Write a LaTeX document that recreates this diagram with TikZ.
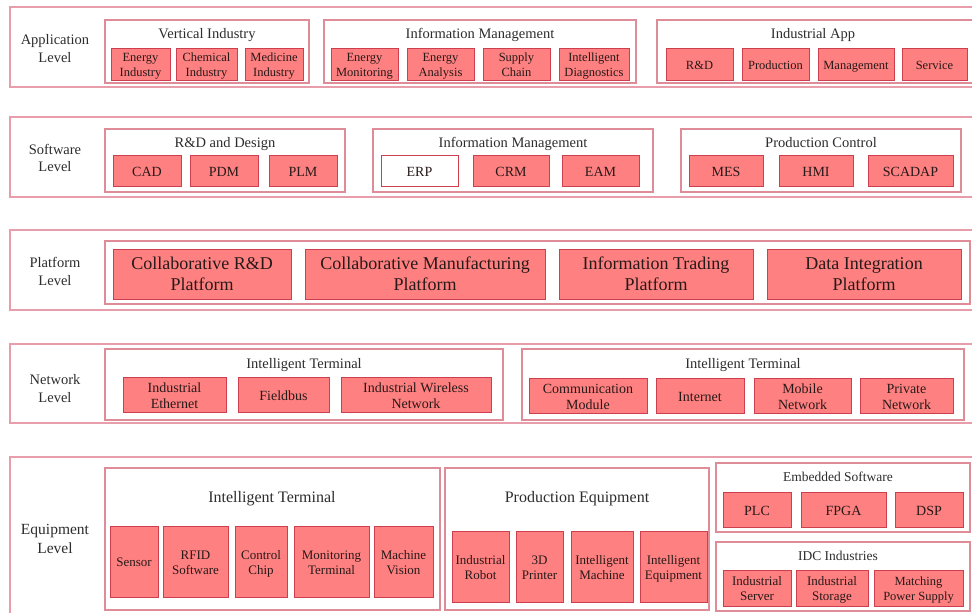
\documentclass[tikz,border=0pt]{standalone}
\usepackage{fontspec}
\setmainfont{Liberation Serif}
\definecolor{cellfill}{RGB}{255,128,128}
\definecolor{celldraw}{RGB}{205,62,78}
\definecolor{grpdraw}{RGB}{222,140,152}
\definecolor{lvldraw}{RGB}{232,158,170}
\definecolor{titletxt}{RGB}{45,45,45}
\definecolor{celltxt}{RGB}{40,25,25}
\tikzset{
  cell/.style={draw=celldraw, fill=cellfill, line width=0.9pt, inner sep=1pt, align=center, text=celltxt},
  wcell/.style={cell, fill=white},
  grp/.style={draw=grpdraw, line width=1.1pt, inner sep=0pt},
  lvl/.style={draw=lvldraw, line width=1.5pt, inner sep=0pt},
  lvltxt/.style={align=center, text=titletxt, inner sep=0pt, font=\fontsize{14.5}{17.5}\selectfont,
    text height=28.6pt, text depth=0pt},
  ttl/.style={text=titletxt, inner sep=0pt, font=\fontsize{14.5}{16}\selectfont,
    execute at begin node=\strut},
  % single-line (1) and two-line (2) cells for each font size
  fa1/.style={font=\fontsize{12.5}{15}\selectfont, text height=10pt, text depth=0pt},
  fa2/.style={font=\fontsize{12.5}{15}\selectfont, text height=25pt, text depth=0pt},
  fb1/.style={font=\fontsize{14}{16}\selectfont, text height=11.2pt, text depth=0pt},
  fb2/.style={font=\fontsize{14}{16}\selectfont, text height=27.2pt, text depth=0pt},
  fc2/.style={font=\fontsize{18}{21}\selectfont, text height=33.6pt, text depth=0pt},
  fd1/.style={font=\fontsize{13}{15}\selectfont, text height=10.4pt, text depth=0pt},
  fd2/.style={font=\fontsize{13}{15}\selectfont, text height=25.4pt, text depth=0pt},
}
% #1 style, #2 name, #3 x1, #4 y1, #5 x2, #6 y2, #7 text
\newcommand\bx[7]{%
  \node[#1, minimum width={(#5-#3)*1pt}, minimum height={(#6-#4)*1pt}] (#2) at ({(#3+#5)/2},{(#4+#6)/2}) {#7};}
\begin{document}
\begin{tikzpicture}[x=1pt,y=-1pt]
\useasboundingbox (0,0) rectangle (972,613);
\clip (0,0) rectangle (972,613);
\fill[white] (0,0) rectangle (972,613);

% ---------- Application level ----------
\bx{lvl}{L1}{10}{7}{980}{87}{}
\node[lvltxt] (L1t) at (55,48) {Application\\Level};
\bx{grp}{G11}{105}{20}{309}{83}{}
\node[ttl] (G11t) at (207,35) {Vertical Industry};
\bx{cell,fa2}{a1}{111}{48}{170}{80}{Energy\\Industry}
\bx{cell,fa2}{a2}{176}{48}{237}{80}{Chemical\\Industry}
\bx{cell,fa2}{a3}{245}{48}{303}{80}{Medicine\\Industry}
\bx{grp}{G12}{324}{20}{636}{83}{}
\node[ttl] (G12t) at (480,35) {Information Management};
\bx{cell,fa2}{a4}{331}{48}{398}{80}{Energy\\Monitoring}
\bx{cell,fa2}{a5}{407}{48}{474}{80}{Energy\\Analysis}
\bx{cell,fa2}{a6}{483}{48}{550}{80}{Supply\\Chain}
\bx{cell,fa2}{a7}{559}{48}{629}{80}{Intelligent\\Diagnostics}
\bx{grp}{G13}{657}{20}{975}{83}{}
\node[ttl] (G13t) at (813,35) {Industrial App};
\bx{cell,fa1}{a8}{666}{48}{733}{80}{R\&D}
\bx{cell,fa1}{a9}{742}{48}{809}{80}{Production}
\bx{cell,fa1}{a10}{818}{48}{894}{80}{Management}
\bx{cell,fa1}{a11}{902}{48}{967}{80}{Service}

% ---------- Software level ----------
\bx{lvl}{L2}{10}{117}{980}{197}{}
\node[lvltxt] (L2t) at (55,157.5) {Software\\Level};
\bx{grp}{G21}{105}{129}{345}{192}{}
\node[ttl] (G21t) at (225,144) {R\&D and Design};
\bx{cell,fb1}{s1}{113}{155}{181}{186}{CAD}
\bx{cell,fb1}{s2}{190}{155}{258}{186}{PDM}
\bx{cell,fb1}{s3}{269}{155}{337}{186}{PLM}
\bx{grp}{G22}{373}{129}{653}{192}{}
\node[ttl] (G22t) at (513,144) {Information Management};
\bx{wcell,fb1}{s4}{381}{155}{458}{186}{ERP}
\bx{cell,fb1}{s5}{473}{155}{549}{186}{CRM}
\bx{cell,fb1}{s6}{562}{155}{639}{186}{EAM}
\bx{grp}{G23}{681}{129}{961}{192}{}
\node[ttl] (G23t) at (821,144) {Production Control};
\bx{cell,fb1}{s7}{689}{155}{763}{186}{MES}
\bx{cell,fb1}{s8}{779}{155}{853}{186}{HMI}
\bx{cell,fb1}{s9}{868}{155}{953}{186}{SCADAP}

% ---------- Platform level ----------
\bx{lvl}{L3}{10}{230}{980}{310}{}
\node[lvltxt] (L3t) at (55,271) {Platform\\Level};
\bx{grp}{G31}{105}{241}{970}{304}{}
\bx{cell,fc2}{p1}{113}{249}{291}{299}{Collaborative R\&D\\Platform}
\bx{cell,fc2}{p2}{305}{249}{545}{299}{Collaborative Manufacturing\\Platform}
\bx{cell,fc2}{p3}{559}{249}{753}{299}{Information Trading\\Platform}
\bx{cell,fc2}{p4}{767}{249}{961}{299}{Data Integration\\Platform}

% ---------- Network level ----------
\bx{lvl}{L4}{10}{344}{980}{423}{}
\node[lvltxt] (L4t) at (55,388) {Network\\Level};
\bx{grp}{G41}{105}{349}{503}{420}{}
\node[ttl] (G41t) at (304,365.5) {Intelligent Terminal};
\bx{cell,fb2}{n1}{123}{377}{226}{412}{Industrial\\Ethernet}
\bx{cell,fb1}{n2}{238}{377}{329}{412}{Fieldbus}
\bx{cell,fb2}{n3}{341}{377}{491}{412}{Industrial Wireless\\Network}
\bx{grp}{G42}{522}{349}{964}{420}{}
\node[ttl] (G42t) at (743,365.5) {Intelligent Terminal};
\bx{cell,fb2}{n4}{529}{378}{647}{413}{Communication\\Module}
\bx{cell,fb1}{n5}{656}{378}{744}{413}{Internet}
\bx{cell,fb2}{n6}{754}{378}{851}{413}{Mobile\\Network}
\bx{cell,fb2}{n7}{860}{378}{953}{413}{Private\\Network}

% ---------- Equipment level ----------
\bx{lvl}{L5}{10}{457}{980}{630}{}
\node[lvltxt, font=\fontsize{15.5}{19}\selectfont, text height=31.4pt, text depth=0pt] (L5t) at (55,538) {Equipment\\Level};
\bx{grp}{G51}{105}{468}{440}{610}{}
\node[ttl, font=\fontsize{16}{18}\selectfont] (G51t) at (272,498.5) {Intelligent Terminal};
\bx{cell,fd1}{e1}{110}{526}{158}{597}{Sensor}
\bx{cell,fd2}{e2}{163}{526}{228}{597}{RFID\\Software}
\bx{cell,fd2}{e3}{235}{526}{287}{597}{Control\\Chip}
\bx{cell,fd2}{e4}{294}{526}{369}{597}{Monitoring\\Terminal}
\bx{cell,fd2}{e5}{374}{526}{433}{597}{Machine\\Vision}
\bx{grp}{G52}{445}{468}{709}{610}{}
\node[ttl, font=\fontsize{16}{18}\selectfont] (G52t) at (577,499) {Production Equipment};
\bx{cell,fd2}{e6}{452}{531}{509}{602}{Industrial\\Robot}
\bx{cell,fd2}{e7}{516}{531}{563}{602}{3D\\Printer}
\bx{cell,fd2}{e8}{571}{531}{633}{602}{Intelligent\\Machine}
\bx{cell,fd2}{e9}{640}{531}{707}{602}{Intelligent\\Equipment}
\bx{grp}{G53}{716}{463}{970}{532}{}
\node[ttl, font=\fontsize{13.5}{15}\selectfont] (G53t) at (838,478) {Embedded Software};
\bx{cell,fb1}{e10}{723}{492}{791}{527}{PLC}
\bx{cell,fb1}{e11}{801}{492}{886}{527}{FPGA}
\bx{cell,fb1}{e12}{895}{492}{963}{527}{DSP}
\bx{grp}{G54}{716}{542}{970}{611}{}
\node[ttl, font=\fontsize{13.5}{15}\selectfont] (G54t) at (838,557) {IDC Industries};
\bx{cell,fd2}{e13}{723}{570}{791}{606}{Industrial\\Server}
\bx{cell,fd2}{e14}{796}{570}{868}{606}{Industrial\\Storage}
\bx{cell,fa2}{e15}{874}{570}{963}{606}{Matching\\Power Supply}
\end{tikzpicture}
\end{document}
